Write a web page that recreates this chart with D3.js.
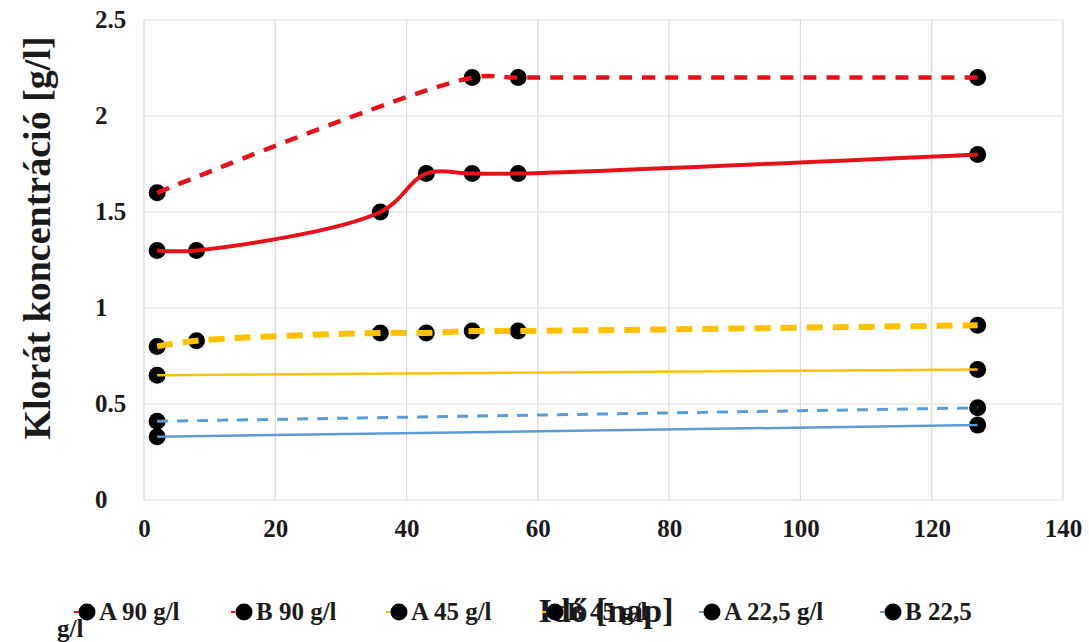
<!DOCTYPE html>
<html><head><meta charset="utf-8">
<script src="https://cdn.jsdelivr.net/npm/d3@7"></script>
<style>
html,body{margin:0;padding:0;background:#fff;}
svg{display:block;font-family:"Liberation Serif","Times New Roman",serif;font-weight:bold;}
</style></head>
<body>
<svg id="chart" width="1089" height="642"></svg>
<script>
// ---- data ----
const seriesNames = ["A 90 g/l", "B 90 g/l", "A 45 g/l", "B 45 g/l", "A 22,5 g/l", "B 22,5 g/l"];
const a90Days = [2, 8, 36, 43, 50, 57, 127];
const a90Vals = [1.3, 1.3, 1.5, 1.7, 1.7, 1.7, 1.8];
const b90Days = [2, 50, 57, 127];
const b90Vals = [1.6, 2.2, 2.2, 2.2];
const a45Days = [2, 127];
const a45Vals = [0.65, 0.68];
const b45Days = [2, 8, 36, 43, 50, 57, 127];
const b45Vals = [0.8, 0.83, 0.87, 0.87, 0.88, 0.88, 0.91];
const a22Days = [2, 127];
const a22Vals = [0.33, 0.39];
const b22Days = [2, 127];
const b22Vals = [0.41, 0.48];
const xTicks = [0, 20, 40, 60, 80, 100, 120, 140];
const yTicks = [0, 0.5, 1, 1.5, 2, 2.5];
const yTickLabels = ["0", "0.5", "1", "1.5", "2", "2.5"];
const xTitle = "Idő [nap]";
const yTitle = "Klorát koncentráció [g/l]";

// ---- styles ----
const styles = [
  {color: "#e8111a", width: 4, dash: null},
  {color: "#e8111a", width: 4.5, dash: "13,10"},
  {color: "#ffc000", width: 2.5, dash: null},
  {color: "#ffc000", width: 6, dash: "16,10"},
  {color: "#5b9bd5", width: 2.5, dash: null},
  {color: "#5b9bd5", width: 3, dash: "11,9"}
];
const seriesData = [
  [a90Days, a90Vals], [b90Days, b90Vals], [a45Days, a45Vals],
  [b45Days, b45Vals], [a22Days, a22Vals], [b22Days, b22Vals]
].map(([d, v]) => d.map((x, i) => ({x, y: v[i]})));

const svg = d3.select("#chart");
const L = 144, R = 1063, T = 20, B = 500;
const x = d3.scaleLinear().domain([0, 140]).range([L, R]);
const y = d3.scaleLinear().domain([0, 2.5]).range([B, T]);

// grid
const g = svg.append("g");
g.selectAll(".vg").data(xTicks).join("line")
  .attr("x1", d => x(d)).attr("x2", d => x(d)).attr("y1", T).attr("y2", B)
  .attr("stroke", "#d9d9d9").attr("stroke-width", 1.2);
g.selectAll(".hg").data(yTicks).join("line")
  .attr("x1", L).attr("x2", R).attr("y1", d => y(d)).attr("y2", d => y(d))
  .attr("stroke", "#d9d9d9").attr("stroke-width", 1.2);

// axes labels via d3 axes
const xAxis = d3.axisBottom(x).tickValues(xTicks).tickSize(0).tickPadding(19).tickFormat(d3.format("d"));
const gx = svg.append("g").attr("transform", `translate(0,${B})`).call(xAxis);
gx.select(".domain").remove();
gx.selectAll("text").attr("font-size", 25).attr("font-family", "Liberation Serif").attr("font-weight", "bold").attr("fill", "#1a1a1a");

const yAxis = d3.axisLeft(y).tickValues(yTicks).tickSize(0).tickFormat((d, i) => yTickLabels[i]);
const gy = svg.append("g").attr("transform", `translate(95,0)`).call(yAxis);
gy.select(".domain").remove();
gy.selectAll("text").attr("text-anchor", "start").attr("x", 0).attr("dy", "0.3em")
  .attr("font-size", 25).attr("font-family", "Liberation Serif").attr("font-weight", "bold").attr("fill", "#1a1a1a");

// y title
svg.append("text").attr("transform", `translate(50,238) rotate(-90)`)
  .attr("text-anchor", "middle").attr("font-size", 38).attr("fill", "#1a1a1a").text(yTitle);

// series
const line = d3.line().x(d => x(d.x)).y(d => y(d.y)).curve(d3.curveCatmullRom.alpha(0.5));
seriesData.forEach((data, i) => {
  svg.append("g").selectAll("circle").data(data).join("circle")
    .attr("cx", d => x(d.x)).attr("cy", d => y(d.y)).attr("r", 8.5).attr("fill", "#000");
});
seriesData.forEach((data, i) => {
  const s = styles[i];
  svg.append("path").datum(data).attr("d", line).attr("fill", "none")
    .attr("stroke", s.color).attr("stroke-width", s.width)
    .attr("stroke-dasharray", s.dash).attr("stroke-linejoin", "round");
});

// x title (overlapped by legend)
svg.append("text").attr("x", 606).attr("y", 622).attr("text-anchor", "middle")
  .attr("font-size", 34).attr("fill", "#1a1a1a").text(xTitle);

// legend
const legendX = [87, 244, 399, 555, 712, 893];
const lg = svg.append("g");
seriesNames.forEach((name, i) => {
  const cx = legendX[i], cy = 612;
  const s = styles[i];
  lg.append("line").attr("x1", cx - 13).attr("x2", cx + 6).attr("y1", cy).attr("y2", cy)
    .attr("stroke", s.color).attr("stroke-width", 2).attr("stroke-dasharray", s.dash ? "4,3" : null);
  lg.append("circle").attr("cx", cx).attr("cy", cy).attr("r", 8.5).attr("fill", "#000");
  const words = i === 5 ? ["B 22,5", "g/l"] : [name];
  lg.append("text").attr("x", cx + 12).attr("y", cy + 8).attr("font-size", 25).attr("fill", "#1a1a1a").text(words[0]);
  if (words[1]) {
    lg.append("text").attr("x", 57).attr("y", cy + 25).attr("font-size", 25).attr("fill", "#1a1a1a").text(words[1]);
  }
});
</script>
</body></html>
